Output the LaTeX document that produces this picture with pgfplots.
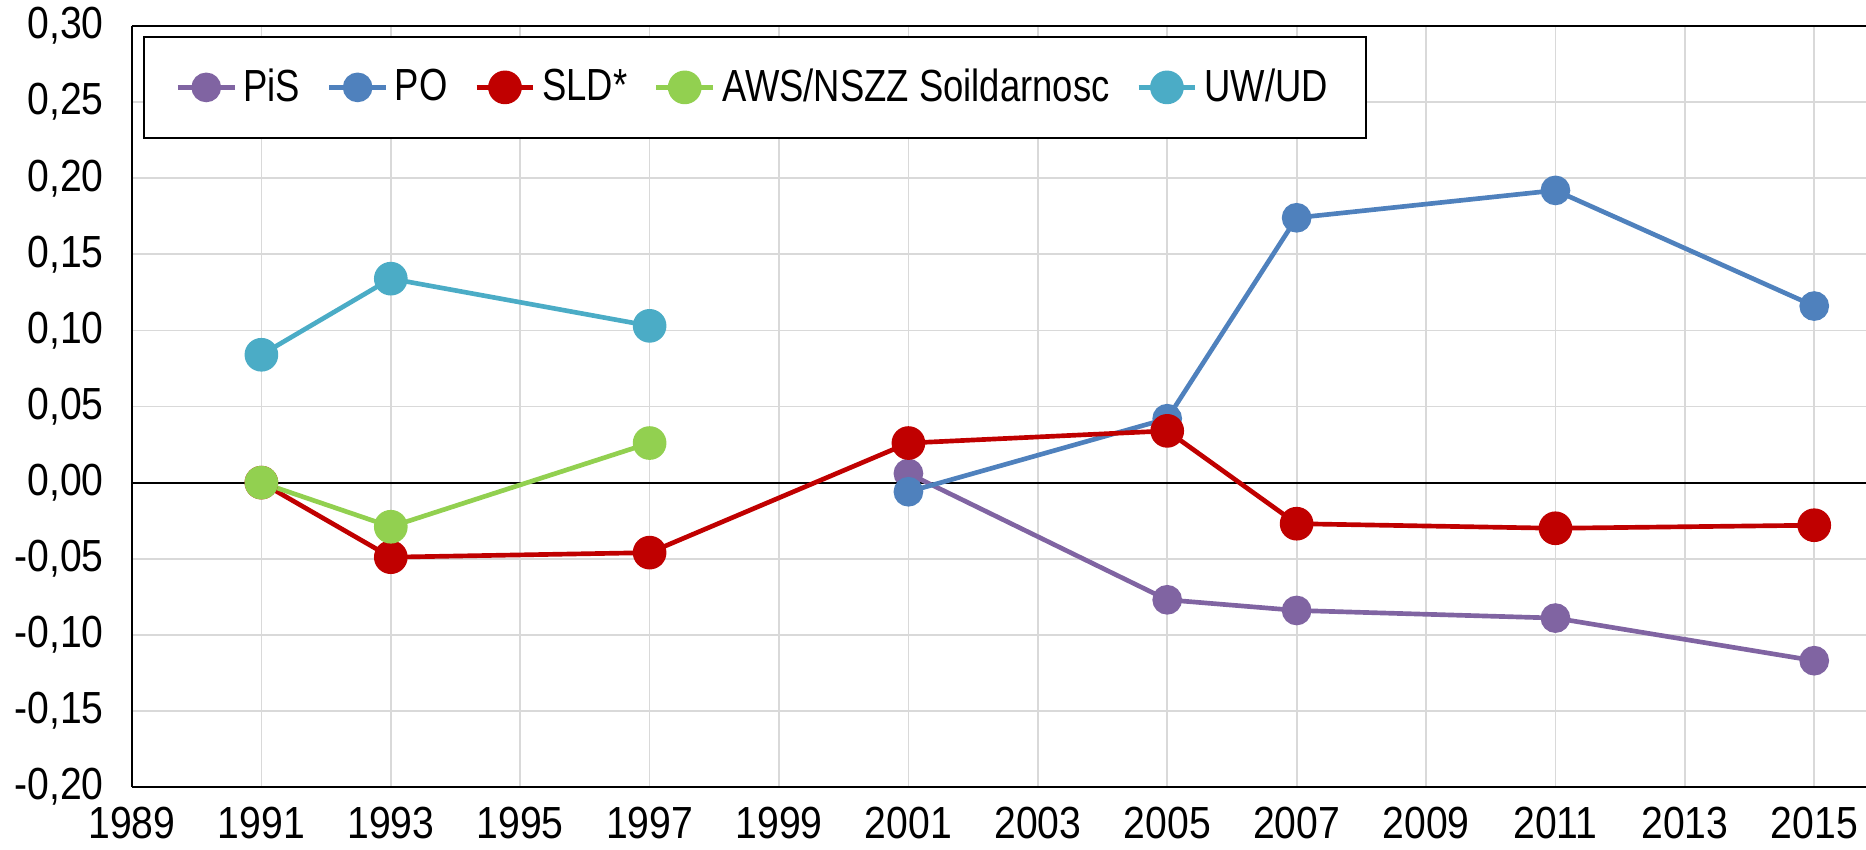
\documentclass[border=0pt]{standalone}
\usepackage{pgfplots}
\pgfplotsset{compat=1.18}
\usepackage{fontspec}
\setmainfont{Liberation Sans}[FakeStretch=0.87]
\newfontfamily\legfont{Liberation Sans}[FakeStretch=0.81]
\definecolor{cPiS}{HTML}{8064A2}
\definecolor{cPO}{HTML}{4F81BD}
\definecolor{cSLD}{HTML}{C00000}
\definecolor{cAWS}{HTML}{92D050}
\definecolor{cUW}{HTML}{4BACC6}
\definecolor{cgrid}{HTML}{D9D9D9}
\begin{document}
\begin{tikzpicture}
\begin{axis}[
  scale only axis, width=520.2pt, height=228.3pt,
  xmin=1989, xmax=2015.8, ymin=-0.2, ymax=0.3,
  axis x line*=box, axis y line*=left,
  axis line style={black, line width=0.6pt},
  xtick={1989,1991,...,2015},
  ytick={-0.2,-0.15,...,0.31},
  major tick length=0pt,
  grid=major, major grid style={cgrid, line width=0.5pt},
  font=\fontsize{13.5}{16}\selectfont,
  /pgf/number format/assume math mode=true,
  xticklabel style={/pgf/number format/set thousands separator={}, yshift=-2.5pt},
  yticklabel style={/pgf/number format/.cd, fixed, fixed zerofill, precision=2, use comma, /tikz/.cd, xshift=-5pt},
  extra y ticks={0}, extra y tick labels={},
  extra y tick style={major grid style={black, line width=0.6pt}},
  legend columns=5,
  legend style={at={(0.0063,0.987)}, anchor=north west, draw=black, line width=0.6pt,
    inner xsep=9.5pt, inner ysep=7.5pt, font=\legfont\fontsize{13.5}{16}\selectfont,
    /tikz/every even column/.append style={column sep=6pt}},
  legend cell align=left,
  legend image code/.code={\draw[mark repeat=2,mark phase=2] plot coordinates {(0pt,0pt)(8.5pt,0pt)(17pt,0pt)};},
  every axis plot/.append style={line width=1.4pt},
]
\addplot[cPiS, mark=*, mark size=3.75pt, mark options={fill=cPiS, draw=none}] coordinates {(2001,0.006)(2005,-0.077)(2007,-0.084)(2011,-0.089)(2015,-0.117)};
\addlegendentry{PiS}
\addplot[cPO, mark=*, mark size=3.75pt, mark options={fill=cPO, draw=none}] coordinates {(2001,-0.006)(2005,0.042)(2007,0.174)(2011,0.192)(2015,0.116)};
\addlegendentry{PO}
\addplot[cSLD, mark=*, mark size=4.35pt, mark options={fill=cSLD, draw=none}] coordinates {(1991,0)(1993,-0.049)(1997,-0.046)(2001,0.026)(2005,0.034)(2007,-0.027)(2011,-0.030)(2015,-0.028)};
\addlegendentry{SLD*}
\addplot[cAWS, mark=*, mark size=4.35pt, mark options={fill=cAWS, draw=none}] coordinates {(1991,0)(1993,-0.029)(1997,0.026)};
\addlegendentry{AWS/NSZZ Soildarnosc}
\addplot[cUW, mark=*, mark size=4.35pt, mark options={fill=cUW, draw=none}] coordinates {(1991,0.084)(1993,0.134)(1997,0.103)};
\addlegendentry{UW/UD}
\end{axis}
\pgfresetboundingbox
\path (-39.6pt,-18.6pt) rectangle (520.2pt,236.1pt);
\end{tikzpicture}
\end{document}
